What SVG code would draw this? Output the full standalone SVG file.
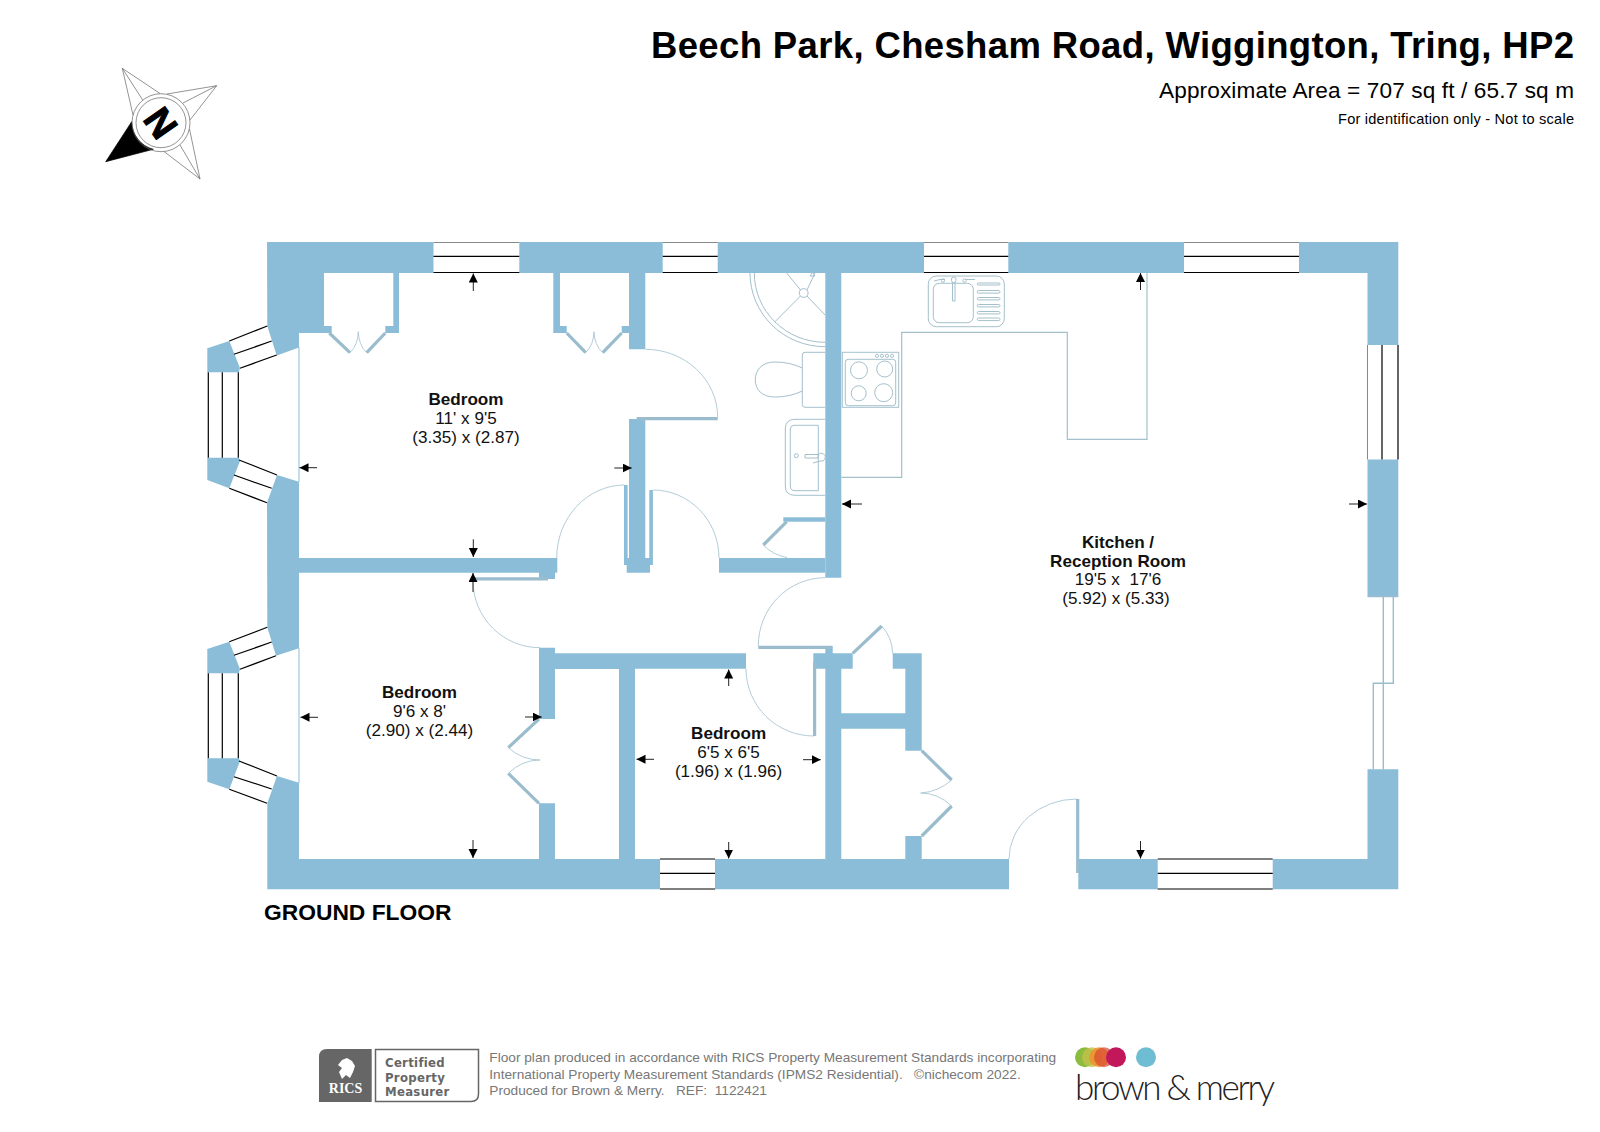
<svg xmlns="http://www.w3.org/2000/svg" width="1600" height="1132" viewBox="0 0 1600 1132">
<defs>
<marker id="ah" markerUnits="userSpaceOnUse" markerWidth="10" markerHeight="10" refX="9" refY="4.5" orient="auto"><path d="M0,0 L9,4.5 L0,9 Z" fill="#000"/></marker>
</defs>
<style>
.wall{fill:#8bbdd9}
.leaf{fill:none;stroke:#9abccd;stroke-width:3.2}
.thin{fill:none;stroke:#a9c6d4;stroke-width:.9}
.fit{fill:none;stroke:#a4c0cc;stroke-width:1}
.win{stroke:#000;stroke-width:1.2;fill:none}
.wtop{stroke:#888;stroke-width:1;fill:none}
.dim{stroke:#222;stroke-width:1;fill:none;marker-end:url(#ah)}
text{font-family:"Liberation Sans",Arial,sans-serif;fill:#000}
.rl{font-size:17.1px;text-anchor:middle;fill:#111}
.rb{font-weight:bold}
.foot{font-size:13.68px;fill:#777}
.cpm{font-family:"DejaVu Sans",sans-serif;font-weight:bold;font-stretch:condensed;font-size:13px;fill:#666;letter-spacing:.3px}
</style>
<rect width="1600" height="1132" fill="#fff"/>
<g id="heading">
<text x="1574" y="58" text-anchor="end" font-weight="bold" font-size="36.5" textLength="923" lengthAdjust="spacing">Beech Park, Chesham Road, Wiggington, Tring, HP2</text>
<text x="1574" y="98" text-anchor="end" font-size="22.6" textLength="415" lengthAdjust="spacing">Approximate Area = 707 sq ft / 65.7 sq m</text>
<text x="1574" y="124" text-anchor="end" font-size="14.6" textLength="236" lengthAdjust="spacing">For identification only - Not to scale</text>
</g>
<g id="compass" fill="none" stroke="#666" stroke-width=".7">
<path d="M131.7,121.7 L105.7,161.7 L153.3,149.3 A29,29 0 0 1 131.7,121.7 Z" fill="#000" stroke="#000"/>
<path d="M133,115 L122.3,68.3 L160,93.5 M122.3,68.3 L142.7,100 M167,94 L216.7,85.7 L190,120 M216.7,85.7 L183,103 M189.5,129 L200,179 L164,151.5 M200,179 L180,145"/>
<circle cx="161" cy="122.7" r="29"/>
<circle cx="161" cy="122.7" r="25"/>
<text x="0" y="0" font-size="38" font-weight="bold" text-anchor="middle" stroke="#000" stroke-width="1" transform="translate(161,122.7) rotate(55) translate(0,13.5)">N</text>
</g>
<g id="walls" class="wall">
<path d="M267,242 H433.5 V273 H399 V333 H385.3 V326 H393.3 V273 H324 V326 H331.7 V333 H299 V347.5 L276.7,355.5 L267.3,326 Z"/>
<rect x="519.3" y="242" width="143.4" height="31"/>
<path d="M717.7,242 H924 V273 H841.3 V577.7 H825.3 V273 H717.7 Z"/>
<rect x="1008.3" y="242" width="175.7" height="31"/>
<path d="M1299,242 H1398.3 V345 H1367.5 V273 H1299 Z"/>
<rect x="1367.5" y="459.5" width="30.8" height="136.5"/>
<path d="M1367.5,769.3 H1398.3 V889.3 H1272.7 V859 H1367.5 Z"/>
<rect x="1078.3" y="859" width="79.4" height="30.3"/>
<path d="M267,502.7 L277,475 L299,481.7 V558 H557.3 V572.7 H555 V579 H539 V572.7 H299 V648.3 L276,655.7 L267.3,627.3 Z"/>
<path d="M267.3,803.3 L277,776 L299,782.7 V859 H539 V803.3 H555 V859 H619 V669 H555 V719 H539 V647.7 H555 V653.3 H746 V668.7 H635 V859 H660 V889.3 H267.3 Z"/>
<path d="M715,859 H825.3 V668.7 H813.3 V653.3 H825.3 V646 H832.7 V653.3 H852.7 V668.7 H841.3 V713.3 H905.3 V668.7 H892.7 V653.3 H921.7 V750.7 H905.3 V728.7 H841.3 V859 H905.3 V836 H921.7 V859 H1009 V889.3 H715 Z"/>
<path d="M629,273 H645.3 V349.3 H629 Z M553.3,273 H560 V326 H566.7 V333 H553.3 Z M621.7,326 H629 V333 H621.7 Z"/>
<path d="M629,419 H645.3 V558 H650 V572.7 H626.7 V558 H629 Z"/>
<rect x="719" y="558" width="106.3" height="14.7"/>
<rect x="624" y="485" width="3.6" height="80"/>
<rect x="649.3" y="490" width="3.6" height="75"/>
<rect x="783.3" y="517.3" width="42" height="4.4"/>
<path d="M207.3,348.3 L229.3,341 L240,368.3 L238.7,372.3 H207.3 Z M207.3,457.7 H238.7 L240,461 L229.3,488.3 L207.3,480 Z"/>
<path d="M207.3,649 L229.3,641.7 L240,669.3 L238.7,673.3 H207.3 Z M207.3,758.3 H238.7 L240,761 L229.3,789.3 L207.3,781.7 Z"/>
</g>
<g id="windows">
<path class="wtop" d="M433.5,242.5 H519.3 M662.7,242.5 H717.7 M924,242.5 H1008.3 M1184,242.5 H1299 M1367.5,345 V459.5"/>
<path class="win" d="M433.5,256.3 H519.3 M433.5,272.5 H519.3"/>
<path class="win" d="M662.7,256.3 H717.7 M662.7,272.5 H717.7"/>
<path class="win" d="M924,256.3 H1008.3 M924,272.5 H1008.3"/>
<path class="win" d="M1184,256.3 H1299 M1184,272.5 H1299"/>
<path class="win" d="M1382,345 V459.5 M1398,345 V459.5"/>
<path class="win" d="M660,859 H715 M660,873.3 H715 M660,889 H715"/>
<path class="win" d="M1157.7,859 H1272.7 M1157.7,873.3 H1272.7 M1157.7,889 H1272.7"/>
<path class="win" d="M208.3,372.3 V457.7 M222.3,372.3 V457.7 M238.3,372.3 V457.7 M229.3,341 L267.3,326 M234,354.3 L271.7,341 M240,368.3 L276.7,355 M229.3,488.3 L267,502.7 M234,475 L271.7,488.3 M239,460 L277,475"/>
<path class="win" d="M208.3,673.3 V758.3 M222.3,673.3 V758.3 M238.3,673.3 V758.3 M229.3,641.7 L267.3,627.3 M234,655.3 L271.7,642 M240,669.3 L276,655.7 M229.3,789.3 L267,803.3 M234,776.7 L271.7,789 M239,761 L277,776"/>
<path class="fit" style="stroke:#9abccd;stroke-width:1.4" d="M1367.5,596.5 H1398.3 M1383.3,596 V769.3 M1393.3,596 V683.3 H1373.3 V769.3"/>
</g>
<g id="doors">
<path class="thin" style="stroke:#8bbdd9;stroke-width:1" d="M299,347 V482 M299,648 V783"/>
<path class="leaf" d="M473,578.8 H548"/>
<path class="thin" d="M473,581 A67,67 0 0 0 540,647.7"/>
<path class="thin" d="M624,485 A68,73 0 0 0 556.7,558"/>
<path class="thin" d="M653,490 A66,68 0 0 1 719,558"/>
<path class="thin" d="M645.3,349.3 A72.4,68 0 0 1 717.7,417.3"/>
<path class="leaf" d="M636.7,418.6 H717.7"/>
<path class="thin" d="M825.3,577.7 A67,68 0 0 0 758.3,646"/>
<path class="leaf" d="M758.3,647.3 H832"/>
<path class="thin" d="M746,668.7 A68,67.3 0 0 0 814.3,736"/>
<path class="leaf" d="M814.6,736 V662"/>
<path class="thin" d="M1009,859 A68,60 0 0 1 1077,799"/>
<path class="leaf" d="M1077.7,799 V873"/>
<path class="leaf" d="M852.7,653.3 L881.7,626"/>
<path class="thin" d="M881.7,626 Q892,637 892.7,653.3"/>
<path class="leaf" d="M329.3,333 L350,352.7 M385.3,333 L366.7,352.7 M566.7,333 L585.7,352.7 M621.7,333 L602.7,352.7"/>
<path class="thin" d="M350,352.7 Q358,345 358.3,331.7 Q358.6,345 366.7,352.7 M585.7,352.7 Q593.6,345 594,331.7 Q594.4,345 602.7,352.7"/>
<path class="leaf" d="M539,719 L508.3,747.7 M508.3,773.3 L539,803.3"/>
<path class="thin" d="M508.3,747.7 Q522,760 540,760 Q522,760 508.3,773.3"/>
<path class="leaf" d="M921.7,750.7 L951.7,780 M951.7,806 L921.7,836"/>
<path class="thin" d="M951.7,780 Q938,792 920.7,793 Q938,793 951.7,806"/>
<path class="leaf" d="M786.7,521.7 L763.3,545"/>
<path class="thin" d="M763.3,545 Q773,555 787,557.5"/>
</g>
<g id="fixtures" class="fit">
<path d="M750,273 A75,73.7 0 0 0 825,346.7 M754.3,273 A70.7,69.3 0 0 0 825,342.3"/>
<circle cx="803.7" cy="293" r="4.4"/>
<path d="M800.5,296 L775,321.7 M800.5,290 L786.7,273 M807,296 L825,315 M807,290 L815,273 M810,276 H815 L812.5,272.5 Z"/>
<path d="M825,352.3 H805 Q802.3,352.3 802.3,355 V404.5 Q802.3,407.3 805,407.3 H825"/>
<path d="M802.3,368 Q790,362 775,362 C762,362 755.3,370 755.3,379.7 C755.3,390 762,397 775,397 Q790,397 802.3,391"/>
<path d="M825,419.3 H795 Q785.3,419.3 785.3,429 V486 Q785.3,495.3 795,495.3 H825"/>
<path d="M818.3,425.3 H794 Q790.3,425.3 790.3,429 V486 Q790.3,490.7 795,490.7 H818.3 Z"/>
<circle cx="796.3" cy="455.7" r="2"/>
<path d="M805,454.5 H818 V458 H805 Z M818,455 A4,4 0 1 1 820,461 L813,463"/>
<rect x="928.3" y="276" width="76" height="50.7" rx="8"/>
<rect x="933.3" y="283.3" width="40" height="39.4" rx="6"/>
<rect x="951.5" y="277" width="4.5" height="5.5" rx="2"/>
<path d="M952.5,282.5 V301 H955 V282.5 M934,281 L940,279.5 H945 M965,279.5 H975"/>
<circle cx="943" cy="280.5" r="1.7"/><circle cx="964.5" cy="280.5" r="1.7"/>
<rect x="977.3" y="283" width="22.7" height="2" rx="1"/>
<rect x="977.3" y="290.5" width="22.7" height="2.6" rx="1.3"/>
<rect x="977.3" y="297.5" width="22.7" height="2.4" rx="1.2"/>
<rect x="977.3" y="304.5" width="22.7" height="2.4" rx="1.2"/>
<rect x="977.3" y="311.5" width="22.7" height="2.4" rx="1.2"/>
<rect x="977.3" y="318" width="22.7" height="2.6" rx="1.3"/>
<path d="M841.3,477.3 H901.7 V332.3 H1067.3 V439.3 H1147 V273" style="stroke-width:1.2"/>
<rect x="842.3" y="352.3" width="56.4" height="55" style="fill:#fff"/>
<rect x="845.3" y="359.3" width="50.4" height="46.4" rx="3"/>
<circle cx="859" cy="370.3" r="8.5"/><circle cx="884.7" cy="369" r="8"/><circle cx="858.7" cy="393.3" r="7.5"/><circle cx="883.7" cy="392.7" r="9"/>
<circle cx="877" cy="355.8" r="1.6"/><circle cx="882" cy="355.8" r="1.6"/><circle cx="887" cy="355.8" r="1.6"/><circle cx="892" cy="355.8" r="1.6"/>
</g>
<g id="dimension-arrows">
<path class="dim" d="M473.3,291 V273.5"/>
<path class="dim" d="M317,467.7 H299.5"/>
<path class="dim" d="M473.3,539.3 V557"/>
<path class="dim" d="M614.3,468 H631.7"/>
<path class="dim" d="M473,592 V573"/>
<path class="dim" d="M318,717.3 H300.5"/>
<path class="dim" d="M525,717 H541.7"/>
<path class="dim" d="M473,840 V858"/>
<path class="dim" d="M728.7,686 V669.5"/>
<path class="dim" d="M654,759.3 H636.5"/>
<path class="dim" d="M803,759.7 H820.7"/>
<path class="dim" d="M728.7,842 V858.5"/>
<path class="dim" d="M862,504 H842"/>
<path class="dim" d="M1349,504 H1367"/>
<path class="dim" d="M1140.5,290 V273"/>
<path class="dim" d="M1140.5,841 V858.5"/>
</g>
<g id="room-labels">
<g id="bedroom-1"><text class="rl rb" x="466" y="405">Bedroom</text><text class="rl" x="466" y="424">11' x 9'5</text><text class="rl" x="466" y="443">(3.35) x (2.87)</text></g>
<g id="bedroom-2"><text class="rl rb" x="419.5" y="698">Bedroom</text><text class="rl" x="419.5" y="716.7">9'6 x 8'</text><text class="rl" x="419.5" y="736">(2.90) x (2.44)</text></g>
<g id="bedroom-3"><text class="rl rb" x="728.6" y="739">Bedroom</text><text class="rl" x="728.6" y="758.3">6'5 x 6'5</text><text class="rl" x="728.6" y="777">(1.96) x (1.96)</text></g>
<g id="kitchen"><text class="rl rb" x="1118" y="548">Kitchen /</text><text class="rl rb" x="1118" y="566.6">Reception Room</text><text class="rl" x="1118" y="585" xml:space="preserve">19'5 x  17'6</text><text class="rl" x="1116" y="604">(5.92) x (5.33)</text></g>
</g>
<text id="floor-name" x="264" y="919.5" font-size="22.8" font-weight="bold" fill="#111">GROUND FLOOR</text>
<g id="rics">
<path d="M327,1049 H371.7 V1102 H319 V1057 Q319,1049 327,1049 Z" fill="#666"/>
<text x="345.5" y="1093" font-weight="bold" font-size="14" text-anchor="middle" style="fill:#fff;font-family:'Liberation Serif',serif">RICS</text>
<path d="M342,1060 L347,1058 L352,1061 L355,1066 L353,1072 L350,1078 L346,1075 L342,1079 L339,1072 L342,1068 L338,1065 Z" fill="#fff"/>
<path d="M375.5,1049.5 H478.5 V1094 Q478.5,1101.5 471,1101.5 H375.5 Z" fill="none" stroke="#666" stroke-width="1.5"/>
<text class="cpm" x="385" y="1067">Certified</text>
<text class="cpm" x="385" y="1081.7">Property</text>
<text class="cpm" x="385" y="1096">Measurer</text>
<text class="foot" x="489.3" y="1062">Floor plan produced in accordance with RICS Property Measurement Standards incorporating</text>
<text class="foot" x="489.3" y="1078.6" xml:space="preserve">International Property Measurement Standards (IPMS2 Residential).   ©nichecom 2022.</text>
<text class="foot" x="489.3" y="1094.8" xml:space="preserve">Produced for Brown &amp; Merry.   REF:  1122421</text>
</g>
<g id="brand">
<circle cx="1085" cy="1057.3" r="10" fill="#8cbc3f"/>
<circle cx="1092" cy="1057.3" r="10" fill="#c4c04a" fill-opacity=".8"/>
<circle cx="1099.3" cy="1057.3" r="10" fill="#f08f2e" fill-opacity=".85"/>
<circle cx="1104" cy="1057.3" r="10" fill="#d9472f" fill-opacity=".7"/>
<circle cx="1116" cy="1057.3" r="10" fill="#c2185b"/>
<circle cx="1146" cy="1057.3" r="10" fill="#6fbdd3"/>
<text x="1075" y="1100" font-size="35" font-weight="300" style="font-family:Lato,'Liberation Sans',sans-serif;fill:#222" textLength="200" lengthAdjust="spacing">brown &amp; merry</text>
</g>
</svg>
